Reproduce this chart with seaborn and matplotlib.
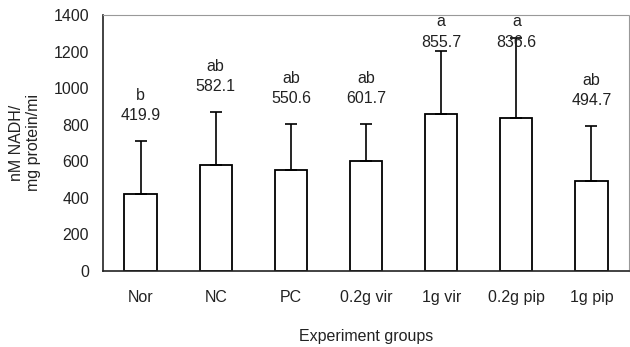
import matplotlib
matplotlib.use("Agg")
import matplotlib.pyplot as plt
import seaborn as sns
import pandas as pd
import numpy as np

groups = ["Nor", "NC", "PC", "0.2g vir", "1g vir", "0.2g pip", "1g pip"]
means = [419.9, 582.1, 550.6, 601.7, 855.7, 836.6, 494.7]
sds = [291, 287, 253, 202, 347, 438, 298]
letters = ["b", "ab", "ab", "ab", "a", "a", "ab"]

sns.set_theme(style="white")
plt.rcParams["font.family"] = ["Liberation Sans", "DejaVu Sans"]

df = pd.DataFrame({"group": groups, "mean": means})

fig = plt.figure(figsize=(6.3, 3.47), dpi=100)
ax = fig.add_axes([0.1635, 0.219, 0.835, 0.738])

sns.barplot(data=df, x="group", y="mean", ax=ax, color="white",
            edgecolor="black", linewidth=1.3, width=0.43, errorbar=None)
x = np.arange(len(groups))
ax.errorbar(x, means, yerr=[np.zeros(len(sds)), sds], fmt="none",
            ecolor="black", elinewidth=1.2, capsize=4, capthick=1.2)

fs = 11.5
for xi, m, s, l in zip(x, means, sds, letters):
    yv = min(m + s + 137, 1250)
    ax.text(xi, yv, f"{m:.1f}", ha="center", va="center", fontsize=fs, color="#222222")
    ax.text(xi, yv + 112, l, ha="center", va="center", fontsize=fs, color="#222222")

ax.set_ylim(0, 1400)
ax.set_xlim(-0.5, 6.5)
ax.set_yticks(range(0, 1401, 200))
ax.tick_params(axis="y", labelsize=fs, length=3, direction="in", pad=10, colors="#222222")
ax.tick_params(axis="x", labelsize=fs, length=0, pad=14, colors="#222222")
ax.set_xlabel("Experiment groups", fontsize=fs, labelpad=17, color="#222222")
ax.set_ylabel("nM NADH/\nmg protein/mi", fontsize=fs, labelpad=9, color="#222222")

for side in ["left", "bottom"]:
    ax.spines[side].set_color("#222222")
    ax.spines[side].set_linewidth(1.2)
for side in ["top", "right"]:
    ax.spines[side].set_color("#999999")
    ax.spines[side].set_linewidth(0.8)
    ax.spines[side].set_linestyle((0, (2, 1)))

fig.savefig("out.png", dpi=100)
